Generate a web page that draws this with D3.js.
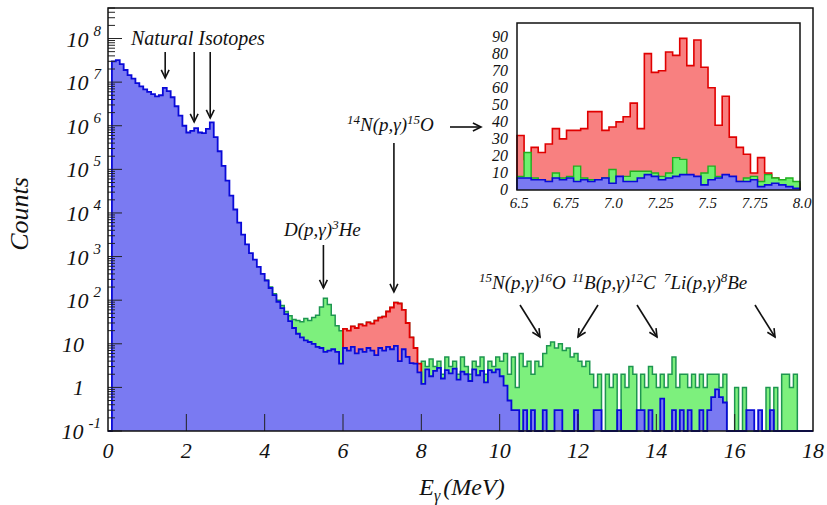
<!DOCTYPE html>
<html>
<head>
<meta charset="utf-8">
<script src="https://cdn.jsdelivr.net/npm/d3@7"></script>
<style>
  body { margin: 0; background: #fff; }
  text { font-family: "Liberation Serif", "DejaVu Serif", serif; font-style: italic; fill: #111; }
</style>
</head>
<body>
<div id="chart"></div>
<script>
// main spectrum, 0.1 MeV bins starting at 0 MeV
const binW = 0.1;
const blueCounts = [
  0, 3.0e7, 3.2e7, 2.6e7, 1.9e7, 1.45e7, 1.2e7, 9.5e6, 8.0e6, 6.8e6,
  6.0e6, 5.3e6, 4.7e6, 5.0e6, 7.4e6, 6.2e6, 4.5e6, 2.8e6, 1.7e6, 1.0e6,
  7.0e5, 7.6e5, 8.8e5, 7.0e5, 6.8e5, 8.5e5, 1.2e6, 5.5e5, 2.6e5, 1.2e5,
  5.5e4, 2.5e4, 1.2e4, 6.0e3, 3.2e3, 1.9e3, 1.2e3, 850, 580, 400,
  280, 190, 130, 92, 66, 48, 33, 23, 17, 14,
  12, 11, 10, 8.5, 8, 6.5, 7, 7.5, 6.5, 3.5,
  8, 7, 8.5, 6, 7.5, 6.5, 8, 7, 5.5, 8,
  7, 8.5, 7.5, 9, 4, 7.5, 5, 3.6, 3.5, 2.2,
  1.2, 2.6, 1.8, 2.4, 2.8, 1.6, 2.5, 2.1, 2.7, 1.5,
  2.3, 2.0, 1.4, 2.6, 1.9, 2.4, 1.3, 2.5, 2.2, 2.6,
  1.8, 1.1, 0.5, 0.3, 0.3, 0, 0.3, 0, 0.3, 0,
  0, 0.3, 0, 0, 0.3, 0.3, 0, 0, 0, 0.3,
  0, 0, 0, 0, 0.3, 0.3, 0, 0, 0, 0,
  0.3, 0, 0, 0, 0, 0.3, 0.3, 0, 0.3, 0,
  0, 0.55, 0, 0, 0.3, 0, 0.3, 0, 0.3, 0,
  0, 0.3, 0, 0.3, 0.6, 0.9, 0.6, 0.45, 0, 0,
  0, 0, 0, 0.3, 0.3, 0, 0.3, 0, 0, 0.3,
  0, 0, 0, 0, 0, 0, 0, 0, 0, 0
];

// beam-on spectrum from 4.0 MeV (same binning)
const totalStart = 4.0;
const totalCounts = [
  290, 200, 140, 100, 75, 55, 44, 36, 34, 32,
  38, 34, 40, 45, 70, 110, 80, 45, 26, 20,
  22, 20, 25, 23, 28, 26, 31, 29, 34, 40,
  42, 55, 68, 88, 84, 60, 30, 14, 8, 3.5,
  4, 3, 4.5, 3, 4, 2, 5, 3, 4, 2,
  5, 3, 2, 4, 3, 5, 2, 4, 3, 5,
  4, 6, 2, 5, 1, 6, 3, 4, 2, 4,
  3, 6, 9, 11, 8, 10, 7, 8, 5, 6,
  4, 3, 4, 2, 1, 2, 0, 2, 1, 2,
  0, 2, 1, 3, 2, 0, 2, 1, 3, 2,
  1, 2, 1, 2, 5, 1, 2, 2, 1, 2,
  1, 2, 1, 2, 2, 2, 1, 2, 0, 0,
  1, 0, 1, 0, 0, 0, 0, 0, 1, 0,
  1, 0, 2, 2, 1, 2, 0, 0, 0, 0
];
const peakRange = [6.0, 8.0];

// inset, 0.0375 MeV bins from 6.5 MeV
const insetStart = 6.5;
const insetBinW = 0.0375;
const insetRed = [
  32, 18, 25, 22, 27, 36, 30, 35, 35, 36,
  46, 46, 35, 37, 40, 43, 51, 36, 80, 69,
  70, 81, 79, 89, 73, 88, 72, 60, 38, 55,
  31, 25, 21, 10, 19, 10, 7, 5, 5, 4
];
const insetGreen = [
  8, 22, 7, 6, 5, 10, 7, 8, 14, 7,
  6, 6, 7, 12, 7, 8, 11, 11, 11, 10,
  8, 10, 19, 18, 8, 7, 10, 14, 8, 7,
  6, 5, 7, 8, 5, 9, 7, 6, 7, 5
];
const insetBlue = [
  7, 7, 6, 6, 5, 7, 6, 7, 5, 6,
  5, 6, 7, 4, 8, 5, 5, 7, 9, 8,
  6, 7, 8, 9, 9, 8, 3, 6, 7, 9,
  8, 5, 5, 6, 2, 3, 4, 3, 2, 1
];

const xTicks = [0, 2, 4, 6, 8, 10, 12, 14, 16, 18];
const yDecades = [-1, 0, 1, 2, 3, 4, 5, 6, 7, 8];
const insetYTicks = [0, 10, 20, 30, 40, 50, 60, 70, 80, 90];
const insetXTicks = [6.5, 6.75, 7.0, 7.25, 7.5, 7.75, 8.0];
const insetXLabels = ["6.5", "6.75", "7.0", "7.25", "7.5", "7.75", "8.0"];

const W = 827, H = 505;
const svg = d3.select("#chart").append("svg")
    .attr("width", W).attr("height", H);

const x = d3.scaleLinear().domain([0, 18]).range([108, 813]);
const yMin = 0.1;
const y = d3.scaleLog().domain([yMin, Math.pow(10, 8.7)]).range([431, 8]).clamp(true);
const yv = v => y(Math.max(v, yMin));

// step outline of a histogram, closed down to the baseline
function histPath(vals, start, w, xs, yf, base) {
    const p = d3.path();
    p.moveTo(xs(start), base);
    vals.forEach((v, i) => {
        const py = yf(v);
        p.lineTo(xs(start + i * w), py);
        p.lineTo(xs(start + (i + 1) * w), py);
    });
    p.lineTo(xs(start + vals.length * w), base);
    return p.toString();
}

function drawHist(g, vals, start, w, xs, yf, base, fill, stroke, sw) {
    const d = histPath(vals, start, w, xs, yf, base);
    g.append("path").attr("d", d).attr("fill", fill).attr("stroke", "none");
    g.append("path").attr("d", d).attr("fill", "none")
        .attr("stroke", stroke).attr("stroke-width", sw)
        .attr("stroke-linejoin", "miter");
}

const base = y(yMin);
const plot = svg.append("g");

// beam-on spectrum (green), then the 14N peak window (red), then background (blue)
drawHist(plot, totalCounts, totalStart, binW, x, yv, base, "#7df07d", "#1e9650", 1.5);

const redStartIdx = Math.round((peakRange[0] - totalStart) / binW);
const redEndIdx = Math.round((peakRange[1] - totalStart) / binW);
drawHist(plot, totalCounts.slice(redStartIdx, redEndIdx), peakRange[0], binW, x, yv, base,
    "#f88080", "#e00000", 1.8);

drawHist(plot, blueCounts, 0, binW, x, yv, base, "#7a7af2", "#0a0ad8", 1.8);

// axis ticks
const axes = svg.append("g").attr("stroke", "#222").attr("stroke-width", 1);
xTicks.filter(t => t > 0 && t < 18).forEach(t => {
    axes.append("line").attr("x1", x(t)).attr("x2", x(t))
        .attr("y1", base).attr("y2", base - 17);
});
yDecades.forEach(e => {
    for (let m = 1; m <= 9; m++) {
        const v = m * Math.pow(10, e);
        if (v > y.domain()[1]) break;
        const len = m === 1 ? 14 : 7;
        axes.append("line").attr("x1", 108).attr("x2", 108 + len)
            .attr("y1", y(v)).attr("y2", y(v));
    }
});

// frame
svg.append("rect").attr("x", 108).attr("y", 8).attr("width", 705).attr("height", 423)
    .attr("fill", "none").attr("stroke", "#111").attr("stroke-width", 1.5);

// y tick labels
yDecades.forEach(e => {
    const ty = y(Math.pow(10, e));
    if (e === 0 || e === 1) {
        svg.append("text").attr("x", 84).attr("y", ty + 8)
            .attr("text-anchor", "end").attr("font-size", 22)
            .text(e === 0 ? "1" : "10");
    } else {
        const t = svg.append("text").attr("x", 101).attr("y", ty + 8)
            .attr("text-anchor", "end").attr("font-size", 22);
        t.append("tspan").text("10");
        t.append("tspan").attr("dx", 5).attr("dy", -11).attr("font-size", 15).text(e);
    }
});

// x tick labels
xTicks.forEach(t => {
    svg.append("text").attr("x", x(t)).attr("y", 458)
        .attr("text-anchor", "middle").attr("font-size", 22).text(t);
});

// axis titles
const xt = svg.append("text").attr("x", 462).attr("y", 495)
    .attr("text-anchor", "middle").attr("font-size", 24);
xt.append("tspan").text("E");
xt.append("tspan").attr("dy", 6).attr("font-size", 16).text("γ");
xt.append("tspan").attr("dy", -6).attr("dx", 3).text("(MeV)");

svg.append("text").attr("transform", "translate(28,214) rotate(-90)")
    .attr("text-anchor", "middle").attr("font-size", 26).text("Counts");

// annotations
function arrow(x1, y1, x2, y2) {
    const g = svg.append("g").attr("stroke", "#111").attr("stroke-width", 1.6).attr("fill", "none");
    g.append("line").attr("x1", x1).attr("y1", y1).attr("x2", x2).attr("y2", y2);
    const a = Math.atan2(y2 - y1, x2 - x1), L = 9, s = 0.45;
    g.append("polyline").attr("points", [
        [x2 - L * Math.cos(a - s), y2 - L * Math.sin(a - s)],
        [x2, y2],
        [x2 - L * Math.cos(a + s), y2 - L * Math.sin(a + s)]
    ].map(p => p.join(",")).join(" "));
}

function label(px, py, parts, fs) {
    const t = svg.append("text").attr("x", px).attr("y", py).attr("font-size", fs || 19);
    let up = false;
    parts.forEach(([s, sup]) => {
        const ts = t.append("tspan").text(s);
        if (sup && !up) { ts.attr("dy", -7).attr("font-size", 13); up = true; }
        else if (!sup && up) { ts.attr("dy", 7); up = false; }
    });
}

label(131, 45, [["Natural Isotopes", false]], 20);
arrow(x(1.46), 52, x(1.46), 78);
arrow(x(2.2), 52, x(2.2), 122);
arrow(x(2.61), 52, x(2.61), 118);

label(284, 236, [["D(p,γ)", false], ["3", true], ["He", false]]);
arrow(x(5.5), 245, x(5.5), 288);

label(347, 131, [["14", true], ["N(p,γ)", false], ["15", true], ["O", false]]);
arrow(x(7.3), 143, x(7.3), 292);
arrow(450, 127, 481, 127);

label(479, 289, [["15", true], ["N(p,γ)", false], ["16", true], ["O", false]]);
label(572, 289, [["11", true], ["B(p,γ)", false], ["12", true], ["C", false]]);
label(664, 289, [["7", true], ["Li(p,γ)", false], ["8", true], ["Be", false]]);
arrow(520, 305, 540, 337);
arrow(598, 305, 578, 337);
arrow(637, 305, 657, 337);
arrow(755, 305, 775, 337);

// inset
const xi = d3.scaleLinear().domain([6.5, 8.0]).range([517, 800]);
const yi = d3.scaleLinear().domain([0, 98]).range([190, 23]);
const ib = yi(0);
svg.append("rect").attr("x", 517).attr("y", 23).attr("width", 283).attr("height", 167)
    .attr("fill", "#fff");
const ins = svg.append("g");
drawHist(ins, insetRed, insetStart, insetBinW, xi, yi, ib, "#f88080", "#e00000", 1.6);
drawHist(ins, insetGreen, insetStart, insetBinW, xi, yi, ib, "#6ef06e", "#1fb01f", 1.4);
drawHist(ins, insetBlue, insetStart, insetBinW, xi, yi, ib, "#7a7af2", "#0a0ad8", 1.6);
svg.append("rect").attr("x", 517).attr("y", 23).attr("width", 283).attr("height", 167)
    .attr("fill", "none").attr("stroke", "#111").attr("stroke-width", 1.5);

insetYTicks.forEach(t => {
    svg.append("text").attr("x", 508).attr("y", yi(t) + 5)
        .attr("text-anchor", "end").attr("font-size", 16).text(t);
});
insetXTicks.forEach((t, i) => {
    svg.append("text").attr("x", xi(t) + 2).attr("y", 208)
        .attr("text-anchor", "middle").attr("font-size", 15).text(insetXLabels[i]);
});
</script>
</body>
</html>
